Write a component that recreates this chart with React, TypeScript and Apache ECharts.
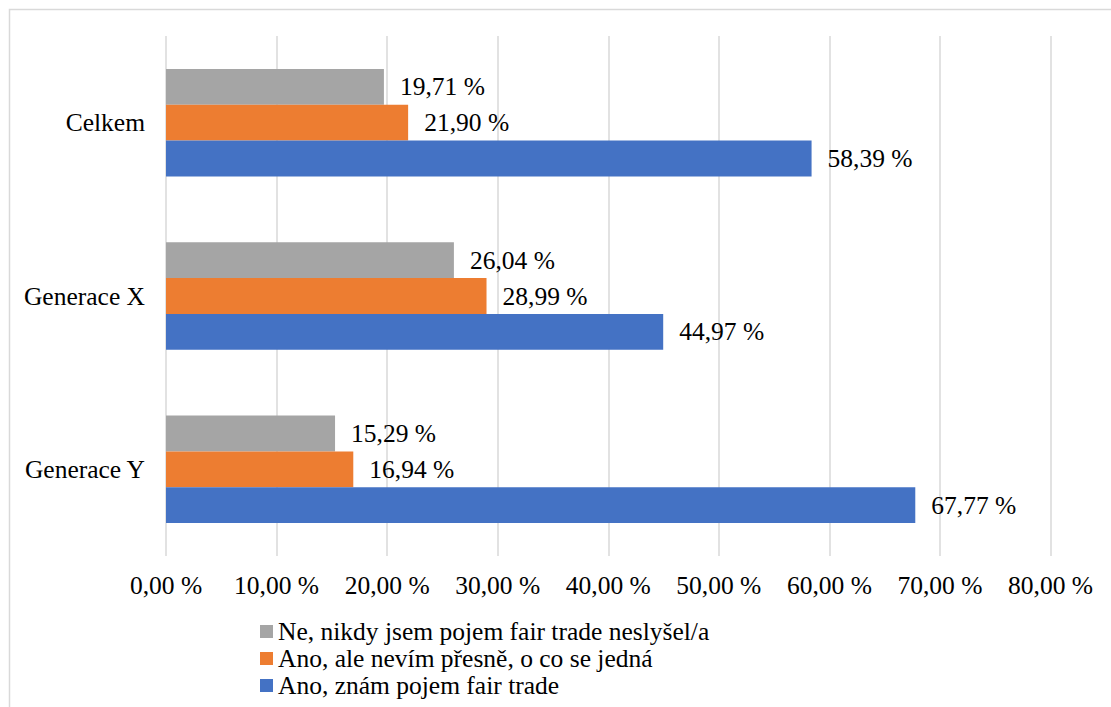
import React, { useEffect, useRef } from "react";
import * as echarts from "echarts";

const categories = ["Generace Y", "Generace X", "Celkem"];
const seriesNames = [
  "Ne, nikdy jsem pojem fair trade neslyšel/a",
  "Ano, ale nevím přesně, o co se jedná",
  "Ano, znám pojem fair trade",
];
const grayValues = [15.29, 26.04, 19.71];
const orangeValues = [16.94, 28.99, 21.9];
const blueValues = [67.77, 44.97, 58.39];
const colors = ["#A5A5A5", "#ED7D31", "#4472C4"];

const fmt = (v: number) => v.toFixed(2).replace(".", ",") + " %";
const FONT = "Liberation Serif";

export default function App() {
  const ref = useRef<HTMLDivElement>(null);
  useEffect(() => {
    if (!ref.current) return;
    const chart = echarts.init(ref.current, undefined, { renderer: "svg" });
    const allValues = [grayValues, orangeValues, blueValues];
    const txt = { fontFamily: FONT, fontSize: 25.5, color: "#000", fontWeight: "normal" as const };
    chart.setOption({
      animation: false,
      backgroundColor: "#ffffff",
      graphic: [
        {
          type: "rect",
          shape: { x: 9.5, y: 9.5, width: 2000, height: 2000 },
          style: { fill: "none", stroke: "#d9d9d9", lineWidth: 1.5 },
          silent: true,
        },
      ],
      grid: { left: 166, right: 60.5, top: 36, bottom: 151, containLabel: false },
      legend: {
        orient: "vertical",
        left: 260,
        top: 618.5,
        height: 85,
        padding: 0,
        itemWidth: 13,
        itemHeight: 13,
        itemGap: 1,
        icon: "rect",
        data: seriesNames,
        textStyle: { ...txt, lineHeight: 26 },
      },
      xAxis: {
        type: "value",
        min: 0,
        max: 80,
        interval: 10,
        axisLine: { show: false },
        axisTick: { show: false },
        splitLine: { show: true, lineStyle: { color: "#d9d9d9", width: 1.5 } },
        axisLabel: {
          ...txt,
          formatter: (v: number) => fmt(v),
          margin: 16,
        },
      },
      yAxis: {
        type: "category",
        data: categories,
        axisLine: { show: false },
        axisTick: { show: false },
        axisLabel: { ...txt, margin: 21 },
      },
      series: seriesNames.map((name, i) => ({
        name,
        type: "bar",
        data: allValues[i],
        barGap: "0%",
        barCategoryGap: "38%",
        itemStyle: { color: colors[i] },
        label: {
          ...txt,
          show: true,
          position: "right",
          distance: 16,
          formatter: (p: any) => fmt(p.value),
        },
      })),
    });
    return () => chart.dispose();
  }, []);
  return (
    <div
      ref={ref}
      style={{ position: "fixed", left: 0, top: 0, width: 1111, height: 707 }}
    />
  );
}
